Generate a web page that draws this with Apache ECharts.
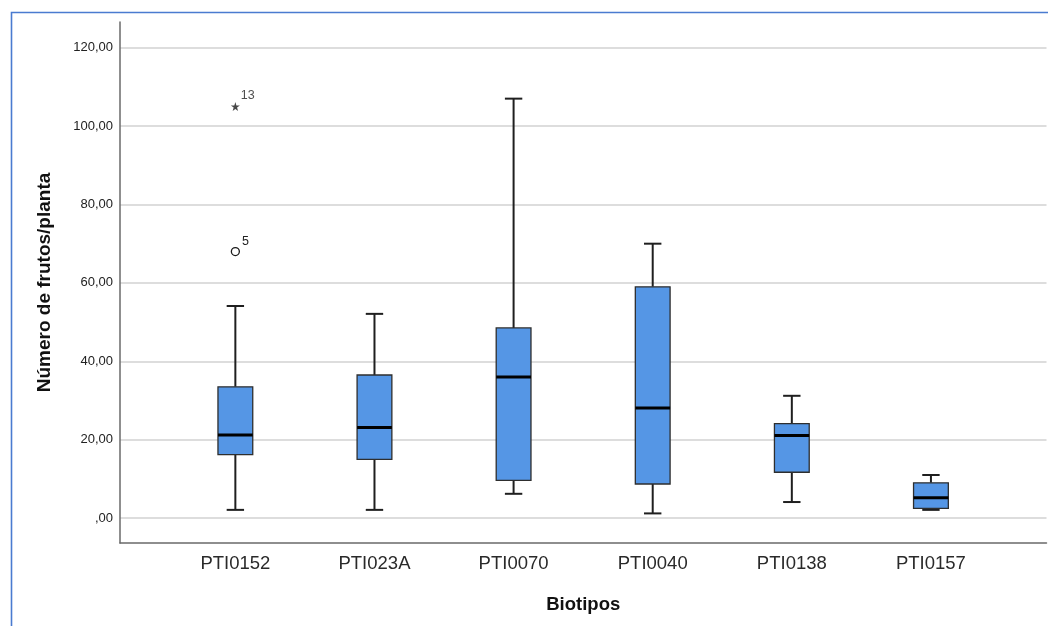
<!DOCTYPE html>
<html>
<head>
<meta charset="utf-8">
<script src="https://cdn.jsdelivr.net/npm/echarts@6/dist/echarts.min.js"></script>
<style>
  html, body { margin: 0; padding: 0; background: #ffffff; }
  #chart { width: 1048px; height: 626px; }
</style>
</head>
<body>
<div id="chart"></div>
<script>
// Box-plot summary per biotype: whisker ends, quartiles and median
const categories  = ['PTI0152', 'PTI023A', 'PTI0070', 'PTI0040', 'PTI0138', 'PTI0157'];
const whiskerLow  = [2.1, 2.1, 6.2, 1.2, 4.1, 2.1];
const quartile1   = [16.2, 15.0, 9.6, 8.7, 11.7, 2.5];
const medians     = [21.2, 23.1, 36.0, 28.1, 21.1, 5.2];
const quartile3   = [33.5, 36.5, 48.5, 59.0, 24.1, 9.0];
const whiskerHigh = [54.1, 52.1, 107.0, 70.0, 31.2, 11.0];

// Out values (circle) and extreme values (star), with their case numbers
const outlierCategory = ['PTI0152'];
const outlierValue    = [68.0];
const outlierCase     = ['5'];
const extremeCategory = ['PTI0152'];
const extremeValue    = [105.0];
const extremeCase     = ['13'];

const FONT = '"Liberation Sans", Arial, Helvetica, sans-serif';
const Y_MIN = -6.35, Y_MAX = 126.55;

const boxData = categories.map((c, i) =>
  [i, whiskerLow[i], quartile1[i], medians[i], quartile3[i], whiskerHigh[i]]);

function renderBox(params, api) {
  const idx = api.value(0);
  const pLow  = api.coord([idx, api.value(1)]);
  const pQ1   = api.coord([idx, api.value(2)]);
  const pMed  = api.coord([idx, api.value(3)]);
  const pQ3   = api.coord([idx, api.value(4)]);
  const pHigh = api.coord([idx, api.value(5)]);
  const band = api.size([1, 0])[0];
  const bw = band * 0.25;
  const cw = bw / 2;
  const cx = pMed[0];
  const whisk = { stroke: '#1f1f1f', lineWidth: 2 };
  return {
    type: 'group',
    children: [
      { type: 'line', shape: { x1: cx, y1: pHigh[1], x2: cx, y2: pQ3[1] }, style: whisk },
      { type: 'line', shape: { x1: cx, y1: pQ1[1], x2: cx, y2: pLow[1] }, style: whisk },
      { type: 'line', shape: { x1: cx - cw / 2, y1: pHigh[1], x2: cx + cw / 2, y2: pHigh[1] }, style: whisk },
      { type: 'line', shape: { x1: cx - cw / 2, y1: pLow[1], x2: cx + cw / 2, y2: pLow[1] }, style: whisk },
      { type: 'rect', shape: { x: cx - bw / 2, y: pQ3[1], width: bw, height: pQ1[1] - pQ3[1] },
        style: { fill: '#5596e5', stroke: '#2e2e2e', lineWidth: 1.3 } },
      { type: 'line', shape: { x1: cx - bw / 2, y1: pMed[1], x2: cx + bw / 2, y2: pMed[1] },
        style: { stroke: '#000000', lineWidth: 3 } }
    ]
  };
}

const starPath = 'path://M50,0 L61,35 L98,35 L68,57 L79,91 L50,70 L21,91 L32,57 L2,35 L39,35 Z';

const chart = echarts.init(document.getElementById('chart'), null, { renderer: 'canvas' });

chart.setOption({
  backgroundColor: '#ffffff',
  animation: false,
  textStyle: { fontFamily: FONT },
  graphic: [{
    type: 'rect',
    shape: { x: 11.5, y: 12.5, width: 1100, height: 700 },
    style: { fill: 'none', stroke: '#4a7bd0', lineWidth: 1.6 },
    silent: true
  }],
  grid: [
    { left: 120, right: 1.5, top: 22, bottom: 83 },
    { left: 165.8, width: 834.7, top: 22, bottom: 83 }
  ],
  xAxis: [
    {
      gridIndex: 0, type: 'value', min: 0, max: 1,
      axisLine: { show: true, onZero: false, lineStyle: { color: '#6a6a6a', width: 1.5 } },
      axisTick: { show: false }, axisLabel: { show: false }, splitLine: { show: false },
      name: 'Biotipos', nameLocation: 'middle', nameGap: 52,
      nameTextStyle: { fontFamily: FONT, fontSize: 18.5, fontWeight: 'bold', color: '#111111' }
    },
    {
      gridIndex: 1, type: 'category', data: categories, boundaryGap: true,
      axisLine: { show: false }, axisTick: { show: false }, splitLine: { show: false },
      axisLabel: { fontFamily: FONT, fontSize: 18.5, color: '#2a2a2a', margin: 11 }
    }
  ],
  yAxis: [
    {
      gridIndex: 0, type: 'value', min: Y_MIN, max: Y_MAX, splitNumber: 7,
      axisLine: { show: true, onZero: false, lineStyle: { color: '#6a6a6a', width: 1.5 } },
      axisTick: { show: false },
      axisLabel: {
        fontFamily: FONT, fontSize: 13, color: '#222222', margin: 7,
        showMinLabel: false, showMaxLabel: false,
        formatter: v => (v === 0 ? ',00' : v.toFixed(2).replace('.', ','))
      },
      splitLine: { show: true, showMinLine: false, showMaxLine: false,
        lineStyle: { color: '#d2d2d2', width: 1.6 } },
      name: 'Número de frutos/planta', nameLocation: 'middle', nameGap: 66, nameRotate: 90,
      nameTextStyle: { fontFamily: FONT, fontSize: 19, fontWeight: 'bold', color: '#111111' }
    },
    {
      gridIndex: 1, type: 'value', min: Y_MIN, max: Y_MAX, show: false,
      splitLine: { show: false }
    }
  ],
  series: [
    {
      type: 'custom', name: 'box',
      xAxisIndex: 1, yAxisIndex: 1,
      data: boxData,
      encode: { x: 0, y: [1, 2, 3, 4, 5] },
      renderItem: renderBox,
      silent: true
    },
    {
      type: 'scatter', name: 'out',
      xAxisIndex: 1, yAxisIndex: 1,
      data: outlierCategory.map((c, i) => ({ value: [c, outlierValue[i]], caseId: outlierCase[i] })),
      symbol: 'circle', symbolSize: 8,
      itemStyle: { color: '#ffffff', borderColor: '#1a1a1a', borderWidth: 1.3, opacity: 1 },
      label: { show: true, position: 'right', distance: 2, offset: [0, -10],
        formatter: p => p.data.caseId, fontFamily: FONT, fontSize: 12.5, color: '#222222' },
      silent: true
    },
    {
      type: 'scatter', name: 'extreme',
      xAxisIndex: 1, yAxisIndex: 1,
      data: extremeCategory.map((c, i) => ({ value: [c, extremeValue[i]], caseId: extremeCase[i] })),
      symbol: starPath, symbolSize: 9,
      itemStyle: { color: '#1a1a1a' },
      label: { show: true, position: 'right', distance: 1, offset: [0, -11],
        formatter: p => p.data.caseId, fontFamily: FONT, fontSize: 12.5, color: '#222222' },
      silent: true
    }
  ]
});
</script>
</body>
</html>
